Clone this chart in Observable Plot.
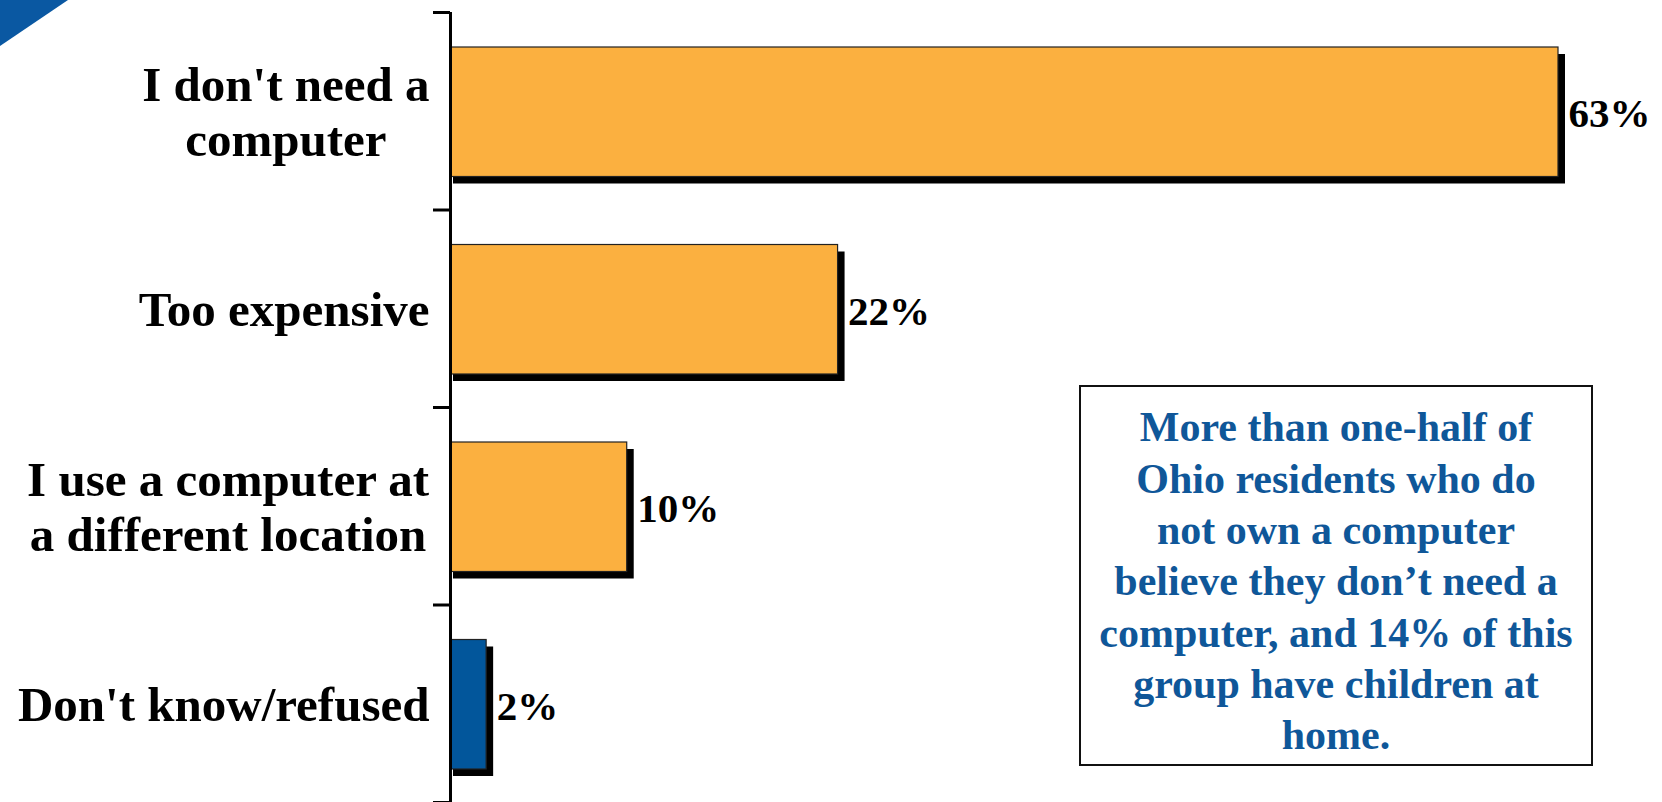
<!DOCTYPE html>
<html>
<head>
<meta charset="utf-8">
<script src="https://cdn.jsdelivr.net/npm/d3@7"></script>
<script src="https://cdn.jsdelivr.net/npm/@observablehq/plot@0.6"></script>
<style>
  html, body { margin: 0; padding: 0; background: #ffffff; width: 1662px; height: 802px; overflow: hidden; }
  #wrap { position: relative; width: 1662px; height: 802px; }
  #corner { position: absolute; left: 0; top: 0; width: 68px; height: 46px; background: #0A58A2;
            clip-path: polygon(0 0, 100% 0, 0 100%); }
  #note { position: absolute; left: 1079px; top: 385px; width: 510px;
          border: 2px solid #111; box-sizing: content-box; display: flex; align-items: center; justify-content: center;
          padding-top: 13px; height: 364px;
          font-family: "Liberation Serif", "DejaVu Serif", serif; font-weight: bold; font-size: 42px; line-height: 51.3px;
          color: #0F5799; text-align: center; }
  svg { overflow: visible; }
</style>
</head>
<body>
<div id="wrap">
  <div id="chart"></div>
  <div id="corner"></div>
  <div id="note"></div>
</div>
<script>
// ---- data ----
const categories = ["I don't need a\ncomputer", "Too expensive", "I use a computer at\na different location", "Don't know/refused"];
const values = [63, 22, 10, 2];
const barColors = ["#FBB040", "#FBB040", "#FBB040", "#02569B"];
const noteLines = ["More than one-half of", "Ohio residents who do", "not own a computer", "believe they don\u2019t need a", "computer, and 14% of this", "group have children at", "home."];
const tickPositions = [0, 1, 2, 3, 4];

const data = categories.map((c, i) => ({ label: c, value: values[i], color: barColors[i], i }));

const labelSize = 49;
const ctx = document.createElement("canvas").getContext("2d");
ctx.font = `bold ${labelSize}px 'Liberation Serif'`;
const blockWidth = (s) => Math.max(...s.split("\n").map(l => ctx.measureText(l).width));

const serif = "'Liberation Serif', 'DejaVu Serif', serif";

const labelMarks = data.map(d => Plot.text([d], {
  x: () => 0,
  y: (r) => r.i + 0.5,
  text: "label",
  textAnchor: "middle",
  lineAnchor: "middle",
  lineHeight: 1.12,
  dx: -(22 + blockWidth(d.label) / 2),
  fontSize: labelSize,
  fontWeight: "bold",
  fontFamily: serif,
  fill: "#000"
}));

const chart = Plot.plot({
  width: 1662,
  height: 802,
  marginLeft: 451,
  marginRight: 104,
  marginTop: 12,
  marginBottom: 0,
  style: { background: "transparent", fontFamily: serif },
  x: { domain: [0, 63], axis: null },
  y: { domain: [0, 4], reverse: true, axis: null },
  color: { type: "identity" },
  marks: [
    // shadow
    Plot.rect(data, {
      x1: () => 0, x2: "value",
      y1: "i", y2: (d) => d.i + 1,
      insetTop: 35, insetBottom: 33, insetRight: -7, insetLeft: 2,
      dy: 7,
      fill: "#000"
    }),
    // bars
    Plot.rect(data, {
      x1: () => 0, x2: "value",
      y1: "i", y2: (d) => d.i + 1,
      insetTop: 35, insetBottom: 33,
      fill: "color",
      stroke: "#222",
      strokeWidth: 1.2
    }),
    Plot.ruleX([0], { stroke: "#000", strokeWidth: 3, dx: -1 }),
    Plot.axisY({ ticks: tickPositions, tickSize: 17, tickFormat: () => "", strokeWidth: 3, stroke: "#000", dx: -1 }),
    // value labels
    Plot.text(data, {
      x: "value",
      y: (d) => d.i + 0.5,
      text: (d) => d.value + "%",
      textAnchor: "start",
      lineAnchor: "middle",
      dx: 10,
      dy: 3,
      fontSize: 41,
      fontWeight: "bold",
      fontFamily: serif,
      fill: "#000"
    }),
    ...labelMarks
  ]
});
document.getElementById("chart").appendChild(chart);
document.getElementById("note").innerHTML = "<div>" + noteLines.join("<br>") + "</div>";
</script>
</body>
</html>
